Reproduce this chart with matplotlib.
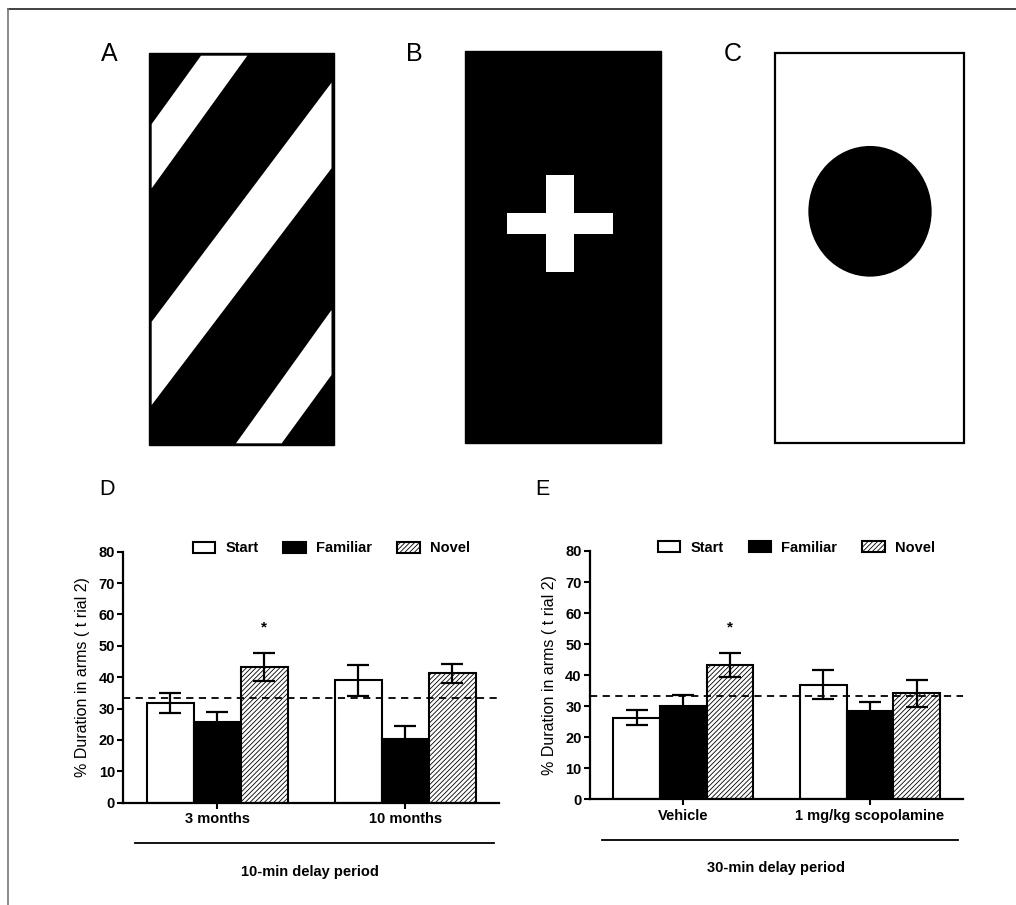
import matplotlib
matplotlib.use("Agg")
import matplotlib.pyplot as plt
from matplotlib.patches import Rectangle, Polygon, Ellipse
import numpy as np

plt.rcParams["font.family"] = ["Liberation Sans", "DejaVu Sans"]
plt.rcParams["hatch.linewidth"] = 0.6

# panel D data (10-min delay)
groups_d = ["3 months", "10 months"]
start_d = [31.8, 39.0]
start_d_err = [3.1, 5.0]
familiar_d = [25.8, 20.4]
familiar_d_err = [3.1, 3.9]
novel_d = [43.2, 41.2]
novel_d_err = [4.5, 3.0]
star_d = [55.9, None]

# panel E data (30-min delay)
groups_e = ["Vehicle", "1 mg/kg scopolamine"]
start_e = [26.3, 36.9]
start_e_err = [2.4, 4.6]
familiar_e = [30.2, 28.6]
familiar_e_err = [3.4, 2.8]
novel_e = [43.3, 34.1]
novel_e_err = [3.9, 4.4]
star_e = [55.4, None]

chance = 33.3
yticks = [0, 10, 20, 30, 40, 50, 60, 70, 80]
series_names = ["Start", "Familiar", "Novel"]

W, H = 1016, 905
fig = plt.figure(figsize=(W / 100, H / 100), dpi=100)

# ---- drawing layer for the maze arm cues (pixel coordinates) ----
bg = fig.add_axes([0, 0, 1, 1], zorder=0)
bg.set_xlim(0, W)
bg.set_ylim(H, 0)
bg.axis("off")

# outer frame
bg.plot([8, W], [9, 9], color="#222222", lw=1.2)
bg.plot([8, 8], [9, H], color="#777777", lw=1.2)

# A: diagonal stripes
bg.add_patch(Rectangle((149.3, 53.3), 184.7, 391.7, facecolor="black", edgecolor="black"))
stripes = [
    [(201, 55.7), (247.3, 55.7), (151.7, 188.3), (151.7, 124)],
    [(331.5, 82.7), (331.5, 168.3), (151.7, 405), (151.7, 321.7)],
    [(331.5, 310), (331.5, 375), (281.7, 443.3), (236, 443.3)],
]
for s in stripes:
    bg.add_patch(Polygon(s, closed=True, facecolor="white", edgecolor="none"))

# B: white cross on black
bg.add_patch(Rectangle((465, 51), 196, 391.7, facecolor="black", edgecolor="black"))
bg.add_patch(Rectangle((546.3, 175), 27.7, 97.3, facecolor="white", edgecolor="none"))
bg.add_patch(Rectangle((507.3, 213.3), 105.4, 21, facecolor="white", edgecolor="none"))

# C: black circle on white
bg.add_patch(Rectangle((775, 53.3), 189, 390, facecolor="white", edgecolor="black", lw=1.6))
bg.add_patch(Ellipse((870, 211.3), 123.3, 130.7, facecolor="black", edgecolor="none"))

for letter, x, y, fs in [("A", 109, 54, 18), ("B", 414, 54, 18), ("C", 733, 54, 18),
                         ("D", 107, 489, 15.5), ("E", 542, 489, 15.5)]:
    bg.text(x, y, letter, fontsize=fs, ha="center", va="center")


def draw_panel(ax, groups, means, errs, stars, period):
    x = np.arange(len(groups))
    width = 0.25
    styles = [
        dict(facecolor="white", edgecolor="black"),
        dict(facecolor="black", edgecolor="black"),
        dict(facecolor="white", edgecolor="black", hatch="///////"),
    ]
    handles = []
    for i, (m, e) in enumerate(zip(means, errs)):
        pos = x + (i - 1) * width
        b = ax.bar(pos, m, width, linewidth=1.5, label=series_names[i], zorder=2, **styles[i])
        ax.errorbar(pos, m, yerr=e, fmt="none", ecolor="black", elinewidth=1.6,
                    capsize=8, capthick=1.6, zorder=3)
        handles.append(b)

    for gi, sy in enumerate(stars):
        if sy is not None:
            ax.text(x[gi] + width, sy, "*", ha="center", va="center",
                    fontsize=11, fontweight="bold")

    ax.axhline(chance, color="black", lw=1.3, ls=(0, (4, 3)), zorder=4)

    ax.set_xlim(-0.5, 1.5)
    ax.set_ylim(0, 80)
    ax.set_yticks(yticks)
    ax.set_xticks(x)
    ax.set_xticklabels(groups, fontsize=10.5, fontweight="bold")
    for lab in ax.get_yticklabels():
        lab.set_fontweight("bold")
        lab.set_fontsize(10.5)
    ax.tick_params(axis="y", length=4.5, width=1.5, pad=1.5)
    ax.tick_params(axis="x", length=4, width=1.5, pad=3)
    ax.spines["top"].set_visible(False)
    ax.spines["right"].set_visible(False)
    ax.spines["left"].set_linewidth(1.6)
    ax.spines["bottom"].set_linewidth(1.6)
    ax.set_ylabel("% Duration in arms ( t rial 2)", fontsize=11.5, labelpad=6)

    ax.legend(handles=handles, loc="center", bbox_to_anchor=(0.553, 1.013), ncol=3,
              frameon=False, prop={"weight": "bold", "size": 10.5},
              handlelength=1.55, handleheight=0.8, handletextpad=0.7,
              columnspacing=1.7, borderpad=0)

    ax.plot([0.032, 0.986], [-0.162, -0.162], transform=ax.transAxes,
            color="black", lw=1.3, clip_on=False)
    ax.text(0.497, -0.275, period, transform=ax.transAxes, ha="center", va="center",
            fontsize=10.5, fontweight="bold")


ax_d = fig.add_axes([0.1214, 0.1130, 0.3700, 0.2774], zorder=2)
draw_panel(ax_d, groups_d,
           [start_d, familiar_d, novel_d],
           [start_d_err, familiar_d_err, novel_d_err],
           star_d, "10-min delay period")

ax_e = fig.add_axes([0.5807, 0.1168, 0.3674, 0.2744], zorder=2)
draw_panel(ax_e, groups_e,
           [start_e, familiar_e, novel_e],
           [start_e_err, familiar_e_err, novel_e_err],
           star_e, "30-min delay period")

fig.savefig("out.png", dpi=100)
